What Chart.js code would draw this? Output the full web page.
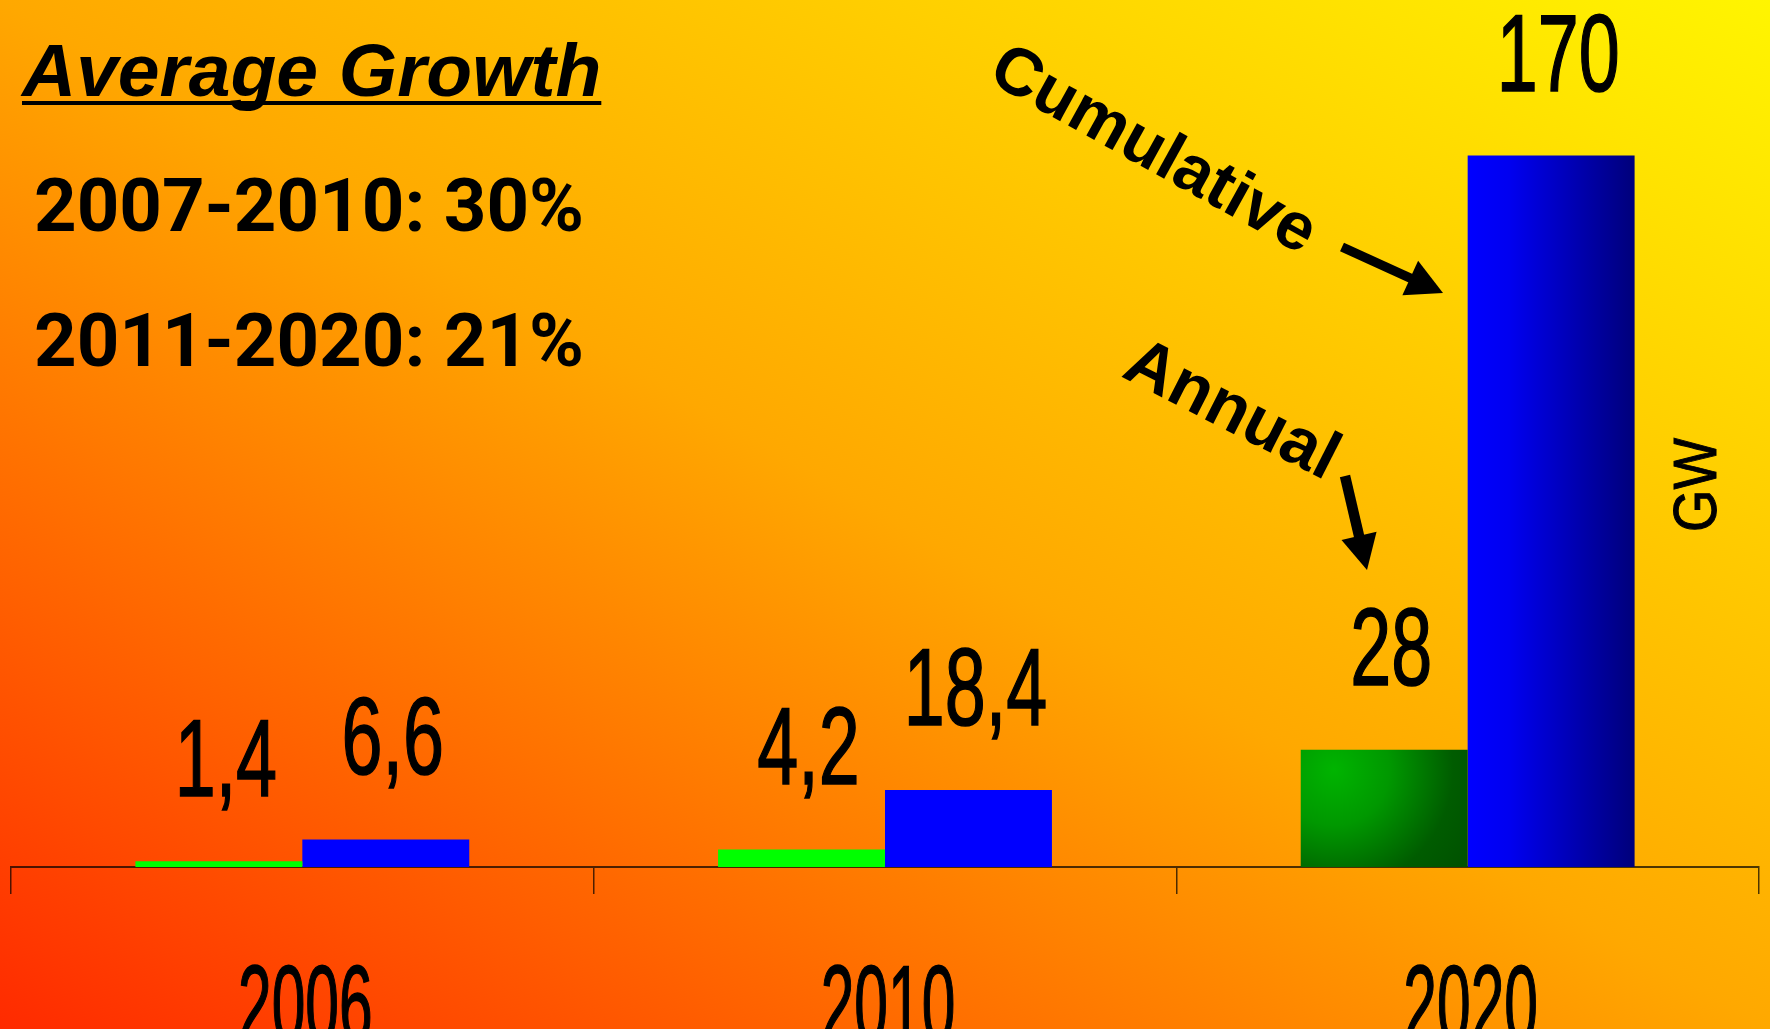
<!DOCTYPE html>
<html>
<head>
<meta charset="utf-8">
<script src="https://cdn.jsdelivr.net/npm/chart.js@4.4.1/dist/chart.umd.min.js"></script>
<style>
  html, body { margin: 0; padding: 0; }
  body {
    width: 1770px; height: 1029px; overflow: hidden;
    background: linear-gradient(to top right, #FF2A00 0%, #FFA800 50%, #FFF500 100%);
  }
  #wrap { width: 1770px; height: 1029px; }
</style>
</head>
<body>
<div id="wrap"><canvas id="chart"></canvas></div>
<script>
const years = ['2006', '2010', '2020'];
const annual = [1.4, 4.2, 28];
const cumulative = [6.6, 18.4, 170];
const growthTitle = 'Average Growth';
const growthLines = ['2007-2010: 30%', '2011-2020: 21%'];
const unitLabel = 'GW';

const BAR_SHARE = 0.573;
const FONT = '"Liberation Sans", Arial, sans-serif';

// bar geometry for the last category, worked out from the scales
function barBox(chart, value, side) {
  const x = chart.scales.x, y = chart.scales.y;
  const center = x.getPixelForValue(2);
  const w = x.width / years.length * BAR_SHARE / 2;
  const left = side === 0 ? center - w : center;
  return { left, right: left + w, top: y.getPixelForValue(value), bottom: y.getPixelForValue(0), w };
}

function annualFill(ctx) {
  const chart = ctx.chart;
  if (ctx.type !== 'data' || ctx.dataIndex !== 2 || !chart.chartArea) return '#00FF00';
  const b = barBox(chart, annual[2], 0);
  const g = chart.ctx.createRadialGradient(b.left + b.w * 0.2, b.top + b.w * 0.12, 0,
                                           b.left + b.w * 0.2, b.top + b.w * 0.12, b.w * 0.95);
  g.addColorStop(0, '#00B400');
  g.addColorStop(0.35, '#009800');
  g.addColorStop(0.75, '#005C00');
  g.addColorStop(1, '#005200');
  return g;
}

function cumulativeFill(ctx) {
  const chart = ctx.chart;
  if (ctx.type !== 'data' || ctx.dataIndex !== 2 || !chart.chartArea) return '#0000FF';
  const b = barBox(chart, cumulative[2], 1);
  const g = chart.ctx.createLinearGradient(b.left, 0, b.right, 0);
  g.addColorStop(0, '#0000FF');
  g.addColorStop(0.25, '#0000F0');
  g.addColorStop(1, '#00007A');
  return g;
}

function narrowText(c, text, x, y, sx, font) {
  c.save();
  c.translate(x, y);
  c.scale(sx, 1);
  c.font = font;
  c.textAlign = 'center';
  c.textBaseline = 'alphabetic';
  c.fillStyle = '#000';
  c.strokeStyle = '#000';
  c.lineWidth = 1.6;
  c.fillText(text, 0, 0);
  c.strokeText(text, 0, 0);
  c.restore();
}

function fittedText(c, text, x, y, width, font) {
  c.save();
  c.font = font;
  const w = c.measureText(text).width;
  c.translate(x, y);
  c.scale(width / w, 1);
  c.textAlign = 'left';
  c.textBaseline = 'alphabetic';
  c.fillStyle = '#000';
  c.fillText(text, 0, 0);
  c.restore();
}

function arrow(c, x0, y0, x1, y1, shaft, headLen, headW) {
  const a = Math.atan2(y1 - y0, x1 - x0);
  const len = Math.hypot(x1 - x0, y1 - y0);
  c.save();
  c.translate(x0, y0);
  c.rotate(a);
  c.fillStyle = '#000';
  c.fillRect(0, -shaft / 2, len - headLen + 1, shaft);
  c.beginPath();
  c.moveTo(len, 0);
  c.lineTo(len - headLen, -headW / 2);
  c.lineTo(len - headLen, headW / 2);
  c.closePath();
  c.fill();
  c.restore();
}

function rotatedText(c, text, x, y, deg, font) {
  c.save();
  c.translate(x, y);
  c.rotate(deg * Math.PI / 180);
  c.font = font;
  c.textAlign = 'left';
  c.textBaseline = 'alphabetic';
  c.fillStyle = '#000';
  c.fillText(text, 0, 0);
  c.restore();
}

const decor = {
  id: 'decor',
  afterDraw(chart) {
    const c = chart.ctx;
    const xs = chart.scales.x;

    // value labels over the bars
    chart.data.datasets.forEach((ds, di) => {
      chart.getDatasetMeta(di).data.forEach((bar, i) => {
        narrowText(c, String(ds.data[i]).replace('.', ','), bar.x + 7, bar.y - 65, 0.67, '110px ' + FONT);
      });
    });

    // category labels, tall and narrow
    years.forEach((yr, i) => {
      narrowText(c, yr, xs.getPixelForValue(i) + 3, 1042, 0.55, '110px ' + FONT);
    });

    // growth text block
    c.save();
    c.fillStyle = '#000';
    c.textAlign = 'left';
    c.textBaseline = 'alphabetic';
    c.font = 'italic bold 75px ' + FONT;
    c.fillText(growthTitle, 22, 96);
    const tw = c.measureText(growthTitle).width;
    c.fillRect(22, 101, tw, 4);
    c.restore();
    fittedText(c, growthLines[0], 34, 231, 550, 'bold 75px Roboto, ' + FONT);
    fittedText(c, growthLines[1], 34, 366, 550, 'bold 75px Roboto, ' + FONT);

    // series callouts
    rotatedText(c, chart.data.datasets[1].label, 986, 80, 29, 'bold 67px ' + FONT);
    rotatedText(c, chart.data.datasets[0].label, 1120, 376, 27, 'bold 68px ' + FONT);
    arrow(c, 1342, 247, 1443, 293, 9.5, 36, 38);
    arrow(c, 1345, 476, 1367, 570, 10.5, 35, 36);

    // unit
    c.save();
    c.translate(1716, 485);
    c.rotate(-Math.PI / 2);
    c.scale(0.88, 1);
    c.font = '62px ' + FONT;
    c.textAlign = 'center';
    c.textBaseline = 'alphabetic';
    c.fillStyle = '#000';
    c.strokeStyle = '#000';
    c.lineWidth = 1;
    c.fillText(unitLabel, 0, 0);
    c.strokeText(unitLabel, 0, 0);
    c.restore();
  }
};

new Chart(document.getElementById('chart'), {
  type: 'bar',
  data: {
    labels: years,
    datasets: [
      { label: 'Annual', data: annual, backgroundColor: annualFill },
      { label: 'Cumulative', data: cumulative, backgroundColor: cumulativeFill }
    ]
  },
  options: {
    responsive: true,
    maintainAspectRatio: false,
    animation: false,
    datasets: { bar: { categoryPercentage: BAR_SHARE, barPercentage: 1, borderWidth: 0 } },
    layout: { padding: { top: 30, left: 11, right: 11, bottom: 135 } },
    plugins: { legend: { display: false }, tooltip: { enabled: false } },
    scales: {
      x: {
        grid: { offset: true, drawOnChartArea: false, tickLength: 27, color: 'rgba(0,0,0,0.7)', lineWidth: 1.5 },
        border: { color: 'rgba(0,0,0,0.7)', width: 2 },
        ticks: { display: false }
      },
      y: { display: false, min: 0, max: 200 }
    }
  },
  plugins: [decor]
});
</script>
</body>
</html>
